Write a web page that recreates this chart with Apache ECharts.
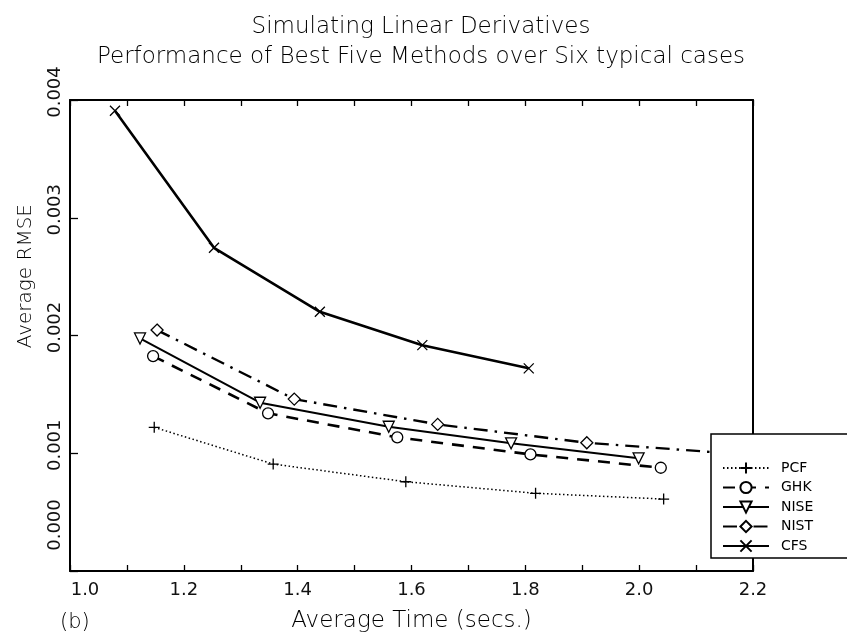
<!DOCTYPE html>
<html>
<head>
<meta charset="utf-8">
<script src="https://cdn.jsdelivr.net/npm/echarts@6/dist/echarts.min.js"></script>
<style>html,body{margin:0;padding:0;background:#fff;}#c{width:847px;height:644px;}</style>
</head>
<body>
<div id="c"></div>
<script>
// ---- data ----
var seriesNames = ['PCF', 'GHK', 'NISE', 'NIST', 'CFS'];
var pcfX  = [1.148, 1.357, 1.590, 1.818, 2.043];
var pcfY  = [0.00122, 0.000908, 0.000758, 0.00066, 0.000611];
var ghkX  = [1.146, 1.348, 1.575, 1.809, 2.038];
var ghkY  = [0.001825, 0.001339, 0.001135, 0.00099, 0.000877];
var niseX = [1.123, 1.334, 1.560, 1.775, 1.999];
var niseY = [0.001975, 0.001429, 0.001225, 0.001084, 0.000957];
var nistX = [1.153, 1.394, 1.646, 1.908, 2.17];
var nistY = [0.002046, 0.00146, 0.001245, 0.001089, 0.000995];
var cfsX  = [1.079, 1.253, 1.439, 1.619, 1.806];
var cfsY  = [0.003908, 0.002745, 0.002201, 0.001918, 0.001721];
var xTicks = ['1.0', '1.2', '1.4', '1.6', '1.8', '2.0', '2.2'];
var yTicks = ['0.000', '0.001', '0.002', '0.003', '0.004'];
var titleLines = ['Simulating Linear Derivatives', 'Performance of Best Five Methods over Six typical cases'];

function pairs(xs, ys) { return xs.map(function (x, i) { return [x, ys[i]]; }); }

var FONT = 'DejaVu Sans';
var chart = echarts.init(document.getElementById('c'), null, { renderer: 'canvas' });

var plus = 'path://M5,0 L5,10 M0,5 L10,5';
var cross = 'path://M0,0 L10,10 M10,0 L0,10';
var triDown = 'path://M0,0 L10,0 L5,9 Z';

function mk(name, data, lineStyle, symbol, size) {
  return {
    name: name, type: 'line', data: data,
    symbol: symbol, symbolSize: size,
    lineStyle: lineStyle,
    itemStyle: { color: '#fff', borderColor: '#000', borderWidth: 1.3 },
    animation: false, z: 3
  };
}

chart.setOption({
  animation: false,
  backgroundColor: '#fff',
  title: {
    text: titleLines.join('\n'),
    left: 416, top: 7, textAlign: 'center',
    textStyle: { fontFamily: FONT, fontSize: 23, fontWeight: 200, color: '#000', lineHeight: 30 }
  },
  grid: { left: 70, top: 100, right: 94, bottom: 73, containLabel: false },
  xAxis: [{
    type: 'value', min: 1.0, max: 2.2, interval: 0.1,
    name: 'Average Time (secs.)', nameLocation: 'middle', nameGap: 39,
    nameTextStyle: { fontFamily: FONT, fontSize: 23, fontWeight: 200, color: '#000' },
    axisLine: { show: true, onZero: false, lineStyle: { color: '#000', width: 2 } },
    axisTick: { show: true, inside: true, length: 6, lineStyle: { color: '#000', width: 1.3 } },
    splitLine: { show: false },
    axisLabel: {
      fontFamily: FONT, fontSize: 18, color: '#111', margin: 10,
      formatter: function (v) {
        var k = Math.round(v * 10);
        if (k % 2 !== 0) return '';
        var s = xTicks[(k - 10) / 2];
        return k === 10 ? '{f|' + s + '}' : s;
      },
      rich: { f: { fontFamily: FONT, fontSize: 18, color: '#111', padding: [0, 0, 0, 30] } }
    }
  }, {
    type: 'value', min: 1.0, max: 2.2, interval: 0.1, position: 'top',
    axisLine: { show: true, onZero: false, lineStyle: { color: '#000', width: 2 } },
    axisTick: { show: true, inside: true, length: 6, lineStyle: { color: '#000', width: 1.3 } },
    axisLabel: { show: false }, splitLine: { show: false }
  }],
  yAxis: [{
    type: 'value', min: 0, max: 0.004, interval: 0.001,
    axisLine: { show: true, onZero: false, lineStyle: { color: '#000', width: 2 } },
    axisTick: { show: true, inside: true, length: 8, lineStyle: { color: '#000', width: 1.3 } },
    splitLine: { show: false },
    axisLabel: {
      rotate: 90, fontFamily: FONT, fontSize: 18, color: '#111', margin: 6,
      formatter: function (v) {
        var k = Math.round(v * 1000);
        var s = yTicks[k];
        return k === 0 ? '{f|' + s + '}' : '{g|' + s + '}';
      },
      rich: {
        f: { fontFamily: FONT, fontSize: 18, color: '#111', padding: [0, 0, 0, 92] },
        g: { fontFamily: FONT, fontSize: 18, color: '#111', padding: [0, 0, 0, 16] }
      }
    }
  }, {
    type: 'value', min: 0, max: 0.004, interval: 0.001, position: 'right',
    axisLine: { show: true, onZero: false, lineStyle: { color: '#000', width: 2 } },
    axisTick: { show: false }, axisLabel: { show: false }, splitLine: { show: false }
  }],
  legend: {
    orient: 'vertical', left: 711, top: 434,
    data: seriesNames,
    backgroundColor: '#fff', borderColor: '#000', borderWidth: 1.5,
    padding: [27, 70, 5, 11],
    itemWidth: 46, itemHeight: 14, itemGap: 5.5,
    textStyle: { fontFamily: FONT, fontSize: 14, color: '#000', padding: [0, 0, 0, 7] },
    z: 10
  },
  graphic: [
    { type: 'text', left: 16, top: 204, rotation: Math.PI / 2,
      style: { text: 'Average RMSE', font: '200 20px "DejaVu Sans"', fill: '#000' } },
    { type: 'text', left: 60, top: 612,
      style: { text: '(b)', font: '200 21px "DejaVu Sans"', fill: '#000' } }
  ],
  series: [
    mk('PCF', pairs(pcfX, pcfY), { color: '#000', width: 1.5, type: [1.5, 2.5] }, plus, 11),
    mk('GHK', pairs(ghkX, ghkY), { color: '#000', width: 2.6, type: [12, 9] }, 'circle', 11),
    mk('NISE', pairs(niseX, niseY), { color: '#000', width: 2 }, triDown, 11),
    mk('NIST', pairs(nistX, nistY), { color: '#000', width: 2.4, type: [14, 7, 2.5, 7] }, 'diamond', 12),
    mk('CFS', pairs(cfsX, cfsY), { color: '#000', width: 2.6 }, cross, 10)
  ]
});
</script>
</body>
</html>
